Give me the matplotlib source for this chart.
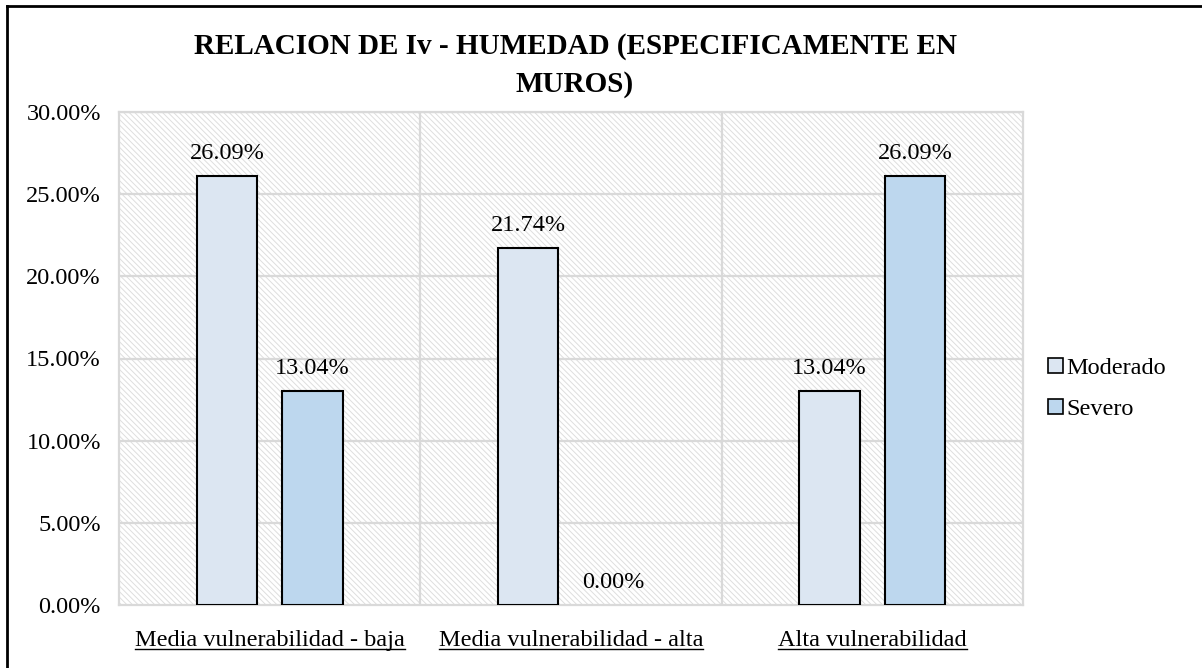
import matplotlib
matplotlib.use("Agg")
import matplotlib.pyplot as plt
from matplotlib.patches import Rectangle, Patch
from matplotlib.lines import Line2D

categories = ["Media vulnerabilidad - baja", "Media vulnerabilidad - alta", "Alta vulnerabilidad"]
series_names = ["Moderado", "Severo"]
moderado = [26.09, 21.74, 13.04]
severo = [13.04, 0.00, 26.09]
y_ticks = [0, 5, 10, 15, 20, 25, 30]
title_lines = ["RELACION DE Iv - HUMEDAD (ESPECIFICAMENTE EN", "MUROS)"]

colors = ["#dce6f2", "#bdd7ee"]
grid_color = "#d9d9d9"
font = "Liberation Serif"
fs = 17.5

plt.rcParams["font.family"] = [font, "DejaVu Serif"]
plt.rcParams["hatch.linewidth"] = 0.7

W, H = 1202, 668
fig = plt.figure(figsize=(W / 100, H / 100), dpi=100)
ax = fig.add_axes([119 / W, 1 - 605 / H, (1023 - 119) / W, (605 - 112) / H])

# hatched plot-area background
bg = Rectangle((0, 0), 1, 1, transform=ax.transAxes, facecolor="white",
               edgecolor="#dedede", hatch="\\" * 6, linewidth=0, zorder=0)
ax.add_patch(bg)
ax.patch.set_visible(False)

ax.set_xlim(-0.5, 2.5)
ax.set_ylim(0, 30)

for y in y_ticks[1:]:
    ax.axhline(y, color=grid_color, lw=1.6, zorder=1)
for x in [0.5, 1.5]:
    ax.axvline(x, color=grid_color, lw=1.6, zorder=1)

for s in ax.spines.values():
    s.set_color(grid_color)
    s.set_linewidth(1.6)

width = 0.2
offset = 0.142
xs = range(len(categories))
for vals, col, sign in [(moderado, colors[0], -1), (severo, colors[1], 1)]:
    for i, v in zip(xs, vals):
        ax.bar(i + sign * offset, v, width=width, color=col,
               edgecolor="black", linewidth=1.5 if v > 0 else 0, zorder=3)
        ax.annotate(f"{v:.2f}%", xy=(i + sign * offset, v), xytext=(0, 8.5),
                    textcoords="offset points", ha="center", va="bottom",
                    fontsize=fs, zorder=4)

ax.set_yticks(y_ticks)
ax.set_yticklabels([f"{t:.2f}%" for t in y_ticks], fontsize=fs)
ax.tick_params(axis="y", length=0, pad=13)
ax.set_xticks([])

# underlined category labels
fig.canvas.draw()
renderer = fig.canvas.get_renderer()
for i, c in enumerate(categories):
    t = ax.text(i, -0.072, c, transform=ax.get_xaxis_transform(), ha="center",
                va="center", fontsize=fs)
    bb = t.get_window_extent(renderer=renderer)
    yline = bb.y0 + 2
    fig.add_artist(Line2D([bb.x0 / W, bb.x1 / W], [yline / H, yline / H],
                          color="black", lw=1.0, transform=fig.transFigure))

# title
fig.text(575 / W, 1 - 47 / H, title_lines[0], ha="center", va="center",
         fontsize=21, fontweight="bold")
fig.text(575 / W, 1 - 85 / H, title_lines[1], ha="center", va="center",
         fontsize=21, fontweight="bold")

# legend
handles = [Patch(facecolor=colors[k], edgecolor="black", linewidth=1.2)
           for k in range(2)]
fig.legend(handles, series_names, loc="center left",
           bbox_to_anchor=(1036 / W, 1 - 389 / H), frameon=False, fontsize=fs,
           handlelength=0.6, handleheight=0.6, handletextpad=0.15,
           labelspacing=0.8, borderpad=0)

# outer frame (top and left edges)
fig.add_artist(Line2D([7 / W, 1.0], [1 - 6 / H, 1 - 6 / H], color="black",
                      lw=2, transform=fig.transFigure))
fig.add_artist(Line2D([7 / W, 7 / W], [0, 1 - 6 / H], color="black",
                      lw=2, transform=fig.transFigure))

fig.savefig("out.png", dpi=100)
